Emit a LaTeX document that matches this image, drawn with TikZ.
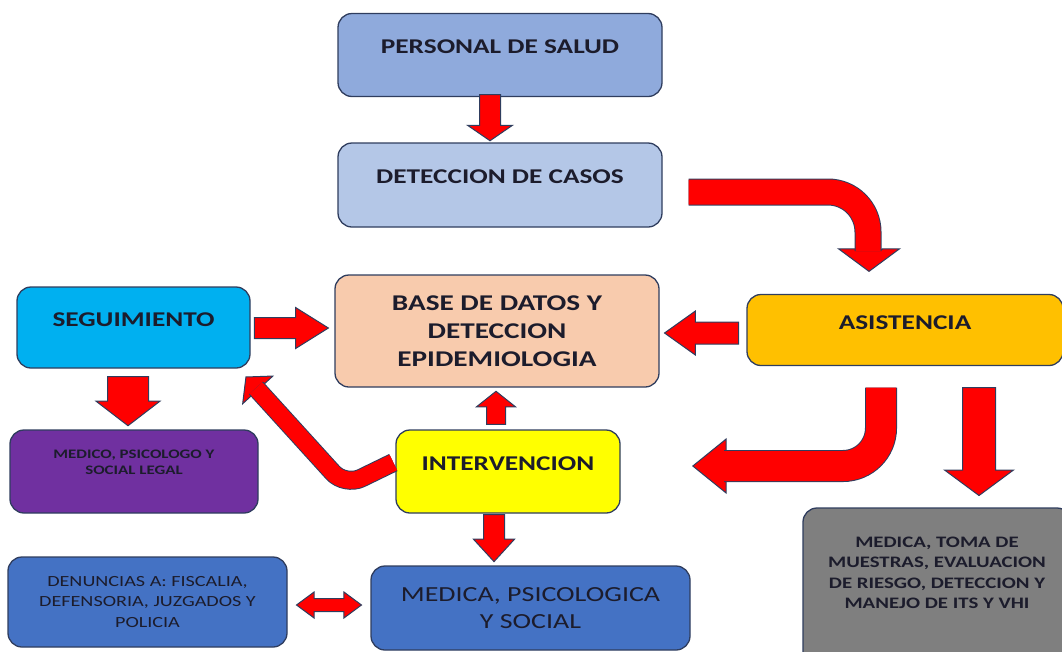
\documentclass[tikz,border=0pt]{standalone}
\usepackage{fontspec}
\setmainfont{Carlito}[FakeStretch=1.3]
\usetikzlibrary{calc,shapes.arrows}
\definecolor{edge}{HTML}{2F3D5E}
\definecolor{arrred}{HTML}{FF0000}
\definecolor{txt}{HTML}{1C1C2C}
\definecolor{persal}{HTML}{8FAADC}
\definecolor{detcas}{HTML}{B4C7E7}
\definecolor{basedat}{HTML}{F8CBAD}
\definecolor{seguim}{HTML}{00B0F0}
\definecolor{asist}{HTML}{FFC000}
\definecolor{morado}{HTML}{7030A0}
\definecolor{amarillo}{HTML}{FFFF00}
\definecolor{azul}{HTML}{4472C4}
\definecolor{gris}{HTML}{7F7F7F}
\newcommand{\subir}[2][8pt]{\raisebox{#1}[\height][\depth]{#2}}

\begin{document}
\begin{tikzpicture}[x=1pt,y=-1pt,
  box/.style={draw=edge,line width=1.3pt,rounded corners=14pt,text=txt,align=center,inner sep=0pt},
  big/.style={font=\fontsize{21}{28}\selectfont\bfseries},
  blk/.style={single arrow,draw=edge,fill=arrred,line width=1pt,inner xsep=0pt,single arrow head indent=0pt,anchor=tip},
  shaft/.style={arrred,line width=#1,rounded corners=26pt,preaction={draw=edge,line width=#1+2pt}},
]
\useasboundingbox (0,0) rectangle (1062,651);

% cajas
\node[box,big,fill=persal,minimum width=324pt,minimum height=83pt] (per) at (500,55) {\subir{PERSONAL DE SALUD}};
\node[box,big,fill=detcas,minimum width=324pt,minimum height=84pt] (det) at (500,185) {\subir{DETECCION DE CASOS}};
\node[box,fill=basedat,minimum width=324pt,minimum height=112pt,font=\fontsize{22.5}{28}\selectfont\bfseries] (base) at (497,331)
  {BASE DE DATOS Y\\DETECCION\\EPIDEMIOLOGIA};
\node[box,big,fill=seguim,minimum width=233pt,minimum height=81pt] (seg) at (133.5,327.5) {\subir{SEGUIMIENTO}};
\node[box,big,fill=asist,minimum width=316pt,minimum height=71pt] (asis) at (905,330) {\subir[7pt]{ASISTENCIA}};
\node[box,fill=morado,minimum width=248pt,minimum height=83pt,font=\fontsize{13}{16}\selectfont\bfseries] (medleg) at (134,471.5)
  {\subir{\begin{tabular}{@{}c@{}}MEDICO, PSICOLOGO Y\\SOCIAL LEGAL\end{tabular}}};
\node[box,big,fill=amarillo,minimum width=224pt,minimum height=83pt] (inter) at (508,471.5) {\subir{INTERVENCION}};
\node[box,fill=azul,minimum width=279pt,minimum height=90pt,font=\fontsize{15.5}{20.5}\selectfont] (den) at (147.5,602)
  {DENUNCIAS A: FISCALIA,\\DEFENSORIA, JUZGADOS Y\\POLICIA};
\node[box,fill=azul,minimum width=319pt,minimum height=84pt,font=\fontsize{21.5}{27}\selectfont] (msoc) at (530.5,608)
  {MEDICA, PSICOLOGICA\\Y SOCIAL};
\node[box,fill=gris,minimum width=268pt,minimum height=160pt,font=\fontsize{16}{20.4}\selectfont\bfseries] (manejo) at (937,588)
  {\subir[14pt]{\begin{tabular}{@{}c@{}}MEDICA, TOMA DE\\MUESTRAS, EVALUACION\\DE RIESGO, DETECCION Y\\MANEJO DE ITS Y VHI\end{tabular}}};

% flechas rectas
\node[blk,rotate=-90,minimum height=46pt,inner ysep=10pt,single arrow head extend=12pt,single arrow tip angle=111] (a1)
  at ($(det.north)+(-10,-1)$) {};
\node[blk,rotate=180,minimum height=74pt,inner ysep=10.5pt,single arrow head extend=11pt,single arrow tip angle=71] (a3)
  at ($(base.east)+(4,2)$) {};
\node[blk,minimum height=74pt,inner ysep=10pt,single arrow head extend=10pt,single arrow tip angle=64] (a4)
  at ($(base.west)+(-5,-3)$) {};
\node[blk,rotate=-90,minimum height=49pt,inner ysep=20pt,single arrow head extend=11.5pt,single arrow tip angle=105] (a5)
  at ($(medleg.north)+(-6,-3)$) {};
\node[blk,rotate=90,minimum height=33pt,inner ysep=9pt,single arrow head extend=10pt,single arrow tip angle=103] (a6)
  at ($(base.south)+(-1,3)$) {};
\node[blk,rotate=-90,minimum height=47pt,inner ysep=10pt,single arrow head extend=10pt,single arrow tip angle=85] (a8)
  at ($(msoc.north)+(-36.5,-3)$) {};
\node[double arrow,draw=edge,fill=arrred,line width=1pt,inner xsep=0pt,inner ysep=6pt,double arrow head indent=0pt,
  minimum height=65pt,double arrow head extend=6.5pt,double arrow tip angle=73] (a9)
  at ($(den.east)!.5!(msoc.west)$) {};
\node[blk,rotate=-90,minimum height=108pt,inner ysep=16pt,single arrow head extend=18pt,single arrow tip angle=107] (a11)
  at ($(asis.south)+(74,130)$) {};

% flechas curvas
\node[blk,rotate=-90,minimum height=22pt,inner ysep=12.5pt,single arrow head extend=17.5pt,single arrow tip angle=107] (a2h)
  at (869,272) {};
\coordinate (a2s) at ($(det.east)+(26,7)$);
\draw[shaft=25pt,rounded corners=40pt] (a2s) -| ($(a2h.tip)+(-1,-21)$);

\node[blk,rotate=132.5,minimum height=17pt,inner ysep=8.5pt,single arrow head extend=11.5pt,single arrow tip angle=99] (a7h)
  at (245.5,376.5) {};
\coordinate (a7s) at ($(inter.west)+(-2,-9)$);
\coordinate (a7k) at (345,486);
\draw[shaft=17pt,rounded corners=18pt] (a7s) -- (a7k) -- (256,388);

\node[blk,rotate=180,minimum height=33pt,inner ysep=15pt,single arrow head extend=11.5pt,single arrow tip angle=78] (a10h)
  at (692,466) {};
\coordinate (a10s) at ($(asis.south)+(-24,21.5)$);
\draw[shaft=30pt,rounded corners=38pt] (a10s) |- ($(a10h.tip)+(32,0)$);
\end{tikzpicture}
\end{document}
